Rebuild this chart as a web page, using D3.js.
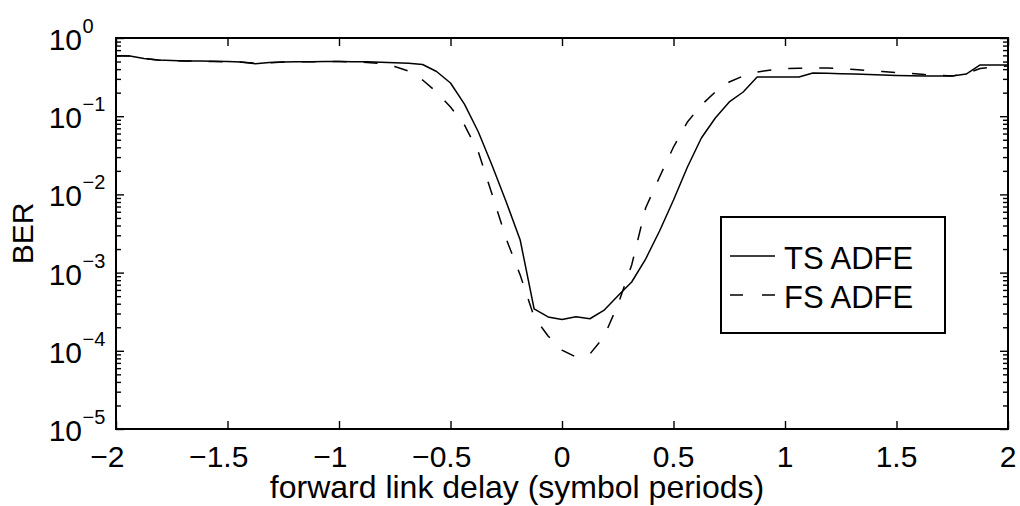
<!DOCTYPE html>
<html>
<head>
<meta charset="utf-8">
<script src="https://cdn.jsdelivr.net/npm/d3@7"></script>
<style>
  body { margin: 0; background: #fff; }
  text { font-family: "Liberation Sans", Arial, Helvetica, sans-serif; fill: #000; }
</style>
</head>
<body>
<svg id="chart" width="1020" height="506"></svg>
<script>
// Forward link delay in symbol periods (1/16 symbol steps)
const delay = [
  -2, -1.9375, -1.875, -1.8125, -1.75, -1.6875, -1.625, -1.5625,
  -1.5, -1.4375, -1.375, -1.3125, -1.25, -1.1875, -1.125, -1.0625,
  -1, -0.9375, -0.875, -0.8125, -0.75, -0.6875, -0.625, -0.5625,
  -0.5, -0.4375, -0.375, -0.3125, -0.25, -0.1875, -0.125, -0.0625,
  0, 0.0625, 0.125, 0.1875, 0.25, 0.3125, 0.375, 0.4375,
  0.5, 0.5625, 0.625, 0.6875, 0.75, 0.8125, 0.875, 0.9375,
  1, 1.0625, 1.125, 1.1875, 1.25, 1.3125, 1.375, 1.4375,
  1.5, 1.5625, 1.625, 1.6875, 1.75, 1.8125, 1.875, 1.9375, 2
];

// Bit error rate, time-spaced ADFE
const tsAdfe = [
  0.594, 0.589, 0.547, 0.523, 0.516, 0.508, 0.508, 0.505,
  0.501, 0.493, 0.469, 0.486, 0.493, 0.496, 0.498, 0.499,
  0.499, 0.498, 0.496, 0.489, 0.483, 0.476, 0.458, 0.373,
  0.266, 0.143, 0.0628, 0.0231, 0.0080, 0.00261, 3.43e-4, 2.71e-4,
  2.51e-4, 2.73e-4, 2.57e-4, 3.28e-4, 5.02e-4, 7.58e-4, 0.00149, 0.0034,
  0.00848, 0.0224, 0.0526, 0.0948, 0.152, 0.204, 0.317, 0.317,
  0.317, 0.317, 0.357, 0.354, 0.350, 0.346, 0.341, 0.336,
  0.332, 0.329, 0.327, 0.327, 0.327, 0.346, 0.452, 0.452, 0.452
];

// Bit error rate, fractionally-spaced ADFE
const fsAdfe = [
  0.594, 0.589, 0.547, 0.523, 0.513, 0.508, 0.504, 0.501,
  0.496, 0.489, 0.479, 0.482, 0.493, 0.496, 0.498, 0.499,
  0.499, 0.498, 0.486, 0.472, 0.432, 0.378, 0.290, 0.204,
  0.131, 0.0772, 0.0348, 0.00982, 0.00269, 9.31e-4, 2.71e-4, 1.55e-4,
  1.02e-4, 8.33e-5, 9.10e-5, 1.50e-4, 3.85e-4, 0.00125, 0.0067, 0.0167,
  0.0404, 0.0843, 0.139, 0.204, 0.274, 0.327, 0.367, 0.390,
  0.407, 0.411, 0.413, 0.413, 0.407, 0.396, 0.384, 0.373,
  0.362, 0.352, 0.341, 0.332, 0.327, 0.352, 0.407, 0.426, 0.438
];

const seriesNames = ["TS ADFE", "FS ADFE"];
const xTickValues = [-2, -1.5, -1, -0.5, 0, 0.5, 1, 1.5, 2];
const yTickExponents = [0, -1, -2, -3, -4, -5];
const xLabel = "forward link delay (symbol periods)";
const yLabel = "BER";

const svg = d3.select("#chart");
const box = { left: 116, right: 1008, top: 38, bottom: 429 };

const x = d3.scaleLinear().domain([-2, 2]).range([box.left, box.right]);
const y = d3.scaleLog().domain([1e-5, 1]).range([box.bottom, box.top]);

const majorY = yTickExponents.map(e => Math.pow(10, e));
const minorY = [];
yTickExponents.slice(1).forEach(e => {
  for (let m = 2; m <= 9; m++) minorY.push(m * Math.pow(10, e));
});

// Clip region for the curves
svg.append("defs").append("clipPath").attr("id", "plot-clip")
  .append("rect")
  .attr("x", box.left).attr("y", box.top)
  .attr("width", box.right - box.left).attr("height", box.bottom - box.top);

// Inward ticks on all four sides
function styleAxis(g) {
  g.select(".domain").remove();
  g.selectAll(".tick line").attr("stroke", "#000").attr("stroke-width", 1.4);
  g.selectAll(".tick text").remove();
}
svg.append("g").attr("transform", `translate(0,${box.bottom})`)
  .call(d3.axisBottom(x).tickValues(xTickValues).tickSizeInner(-8).tickSizeOuter(0)).call(styleAxis);
svg.append("g").attr("transform", `translate(0,${box.top})`)
  .call(d3.axisTop(x).tickValues(xTickValues).tickSizeInner(-8).tickSizeOuter(0)).call(styleAxis);
svg.append("g").attr("transform", `translate(${box.left},0)`)
  .call(d3.axisLeft(y).tickValues(majorY).tickSizeInner(-8).tickSizeOuter(0)).call(styleAxis);
svg.append("g").attr("transform", `translate(${box.left},0)`)
  .call(d3.axisLeft(y).tickValues(minorY).tickSizeInner(-5).tickSizeOuter(0)).call(styleAxis);
svg.append("g").attr("transform", `translate(${box.right},0)`)
  .call(d3.axisRight(y).tickValues(majorY).tickSizeInner(-8).tickSizeOuter(0)).call(styleAxis);
svg.append("g").attr("transform", `translate(${box.right},0)`)
  .call(d3.axisRight(y).tickValues(minorY).tickSizeInner(-5).tickSizeOuter(0)).call(styleAxis);

// X tick labels: digits centred on the tick, minus sign hanging to the left
const xFmt = d3.format("");
const xLabels = svg.append("g").attr("font-size", 30);
xTickValues.forEach(v => {
  const t = xLabels.append("text")
    .attr("x", x(v)).attr("y", 467).attr("text-anchor", "middle")
    .text(xFmt(Math.abs(v)));
  if (v < 0) {
    const w = t.node().getComputedTextLength();
    xLabels.append("text")
      .attr("x", x(v) - w / 2).attr("y", 467).attr("text-anchor", "end")
      .text("\u2212");
  }
});

// Y tick labels as powers of ten
const yLabels = svg.append("g");
yTickExponents.forEach(e => {
  const ty = y(Math.pow(10, e));
  yLabels.append("text")
    .attr("x", 82).attr("y", ty + 12).attr("text-anchor", "end")
    .attr("font-size", 30).text("10");
  yLabels.append("text")
    .attr("x", 82.5).attr("y", ty - 5).attr("text-anchor", "start")
    .attr("font-size", 20).text(e < 0 ? "\u2212" + Math.abs(e) : String(e));
});

// Axis titles
svg.append("text")
  .attr("x", 517).attr("y", 498)
  .attr("text-anchor", "middle").attr("font-size", 32).text(xLabel);
svg.append("text")
  .attr("transform", `translate(33,${(box.top + box.bottom) / 2}) rotate(-90)`)
  .attr("text-anchor", "middle").attr("font-size", 30).text(yLabel);

// Curves
const line = d3.line().x(d => x(d[0])).y(d => y(d[1]));
const plot = svg.append("g").attr("clip-path", "url(#plot-clip)");
plot.append("path")
  .datum(delay.map((d, i) => [d, tsAdfe[i]]))
  .attr("fill", "none").attr("stroke", "#000").attr("stroke-width", 1.5)
  .attr("stroke-linejoin", "round").attr("d", line);
plot.append("path")
  .datum(delay.map((d, i) => [d, fsAdfe[i]]))
  .attr("fill", "none").attr("stroke", "#000").attr("stroke-width", 1.5)
  .attr("stroke-dasharray", "14,17").attr("d", line);

// Frame
svg.append("rect")
  .attr("x", box.left).attr("y", box.top)
  .attr("width", box.right - box.left).attr("height", box.bottom - box.top)
  .attr("fill", "none").attr("stroke", "#000").attr("stroke-width", 2);

// Legend
const legend = svg.append("g");
legend.append("rect")
  .attr("x", 721).attr("y", 217).attr("width", 224).attr("height", 116)
  .attr("fill", "#fff").attr("stroke", "#000").attr("stroke-width", 2);
const legendRows = [
  { name: seriesNames[0], dash: null, ly: 256 },
  { name: seriesNames[1], dash: "13,19", ly: 295 }
];
legendRows.forEach(r => {
  legend.append("line")
    .attr("x1", 730).attr("x2", 775).attr("y1", r.ly).attr("y2", r.ly)
    .attr("stroke", "#000").attr("stroke-width", 1.5)
    .attr("stroke-dasharray", r.dash);
  legend.append("text")
    .attr("x", 784).attr("y", r.ly + 12.5).attr("font-size", 31).text(r.name);
});
</script>
</body>
</html>
